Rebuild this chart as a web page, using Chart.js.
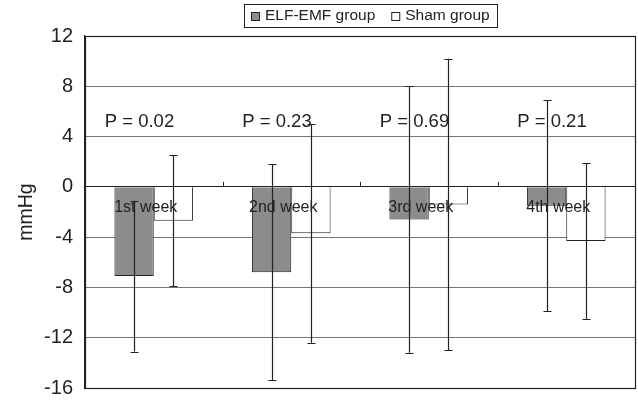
<!DOCTYPE html>
<html>
<head>
<meta charset="utf-8">
<style>
  html, body { margin: 0; padding: 0; background: #fff; }
  canvas { display: block; }
</style>
<script src="https://cdn.jsdelivr.net/npm/chart.js@4/dist/chart.umd.min.js"></script>
</head>
<body>
<canvas id="chart" width="638" height="400"></canvas>
<script>
(function () {
  'use strict';

  var weeks = ['1st week', '2nd week', '3rd week', '4th week'];
  var elfMean = [-7.1, -6.8, -2.6, -1.5];
  var elfSd = [6.0, 8.6, 10.6, 8.4];
  var shamMean = [-2.7, -3.7, -1.4, -4.3];
  var shamSd = [5.2, 8.7, 11.6, 6.2];
  var pLabels = ['P = 0.02', 'P = 0.23', 'P = 0.69', 'P = 0.21'];
  var pLabelY = 5.2;
  var yMin = -16, yMax = 12, yStep = 4;

  var FONT = '"Liberation Sans", Arial, sans-serif';
  var INK = '#222';
  var sdByDataset = [elfSd, shamSd];

  // --- Overlay: labels, error bars, axis ticks, frame, legend ---
  var overlay = {
    id: 'overlay',
    afterDatasetsDraw: function (chart) {
      var c = chart.ctx;
      var x = chart.scales.x;
      var y = chart.scales.y;
      var y0 = y.getPixelForValue(0);

      c.save();
      c.fillStyle = INK;

      // category labels sit under the zero line
      c.font = '16px ' + FONT;
      c.textAlign = 'center';
      c.textBaseline = 'middle';
      for (var i = 0; i < weeks.length; i++) {
        c.fillText(weeks[i], x.getPixelForValue(i) - 8, y0 + 21);
      }

      // P values
      c.font = '18.5px ' + FONT;
      c.textAlign = 'left';
      for (var k = 0; k < pLabels.length; k++) {
        c.fillText(pLabels[k], x.getPixelForValue(k) - 49, y.getPixelForValue(pLabelY));
      }

      // error bars (mean +/- sd)
      c.strokeStyle = INK;
      c.lineWidth = 1.2;
      for (var d = 0; d < chart.data.datasets.length; d++) {
        var meta = chart.getDatasetMeta(d);
        var means = chart.data.datasets[d].data;
        var sd = sdByDataset[d];
        meta.data.forEach(function (bar, j) {
          var hi = y.getPixelForValue(means[j] + sd[j]);
          var lo = y.getPixelForValue(means[j] - sd[j]);
          var bx = Math.round(bar.x) + 0.5;
          c.beginPath();
          c.moveTo(bx, hi); c.lineTo(bx, lo);
          c.moveTo(bx - 4, Math.round(hi) + 0.5); c.lineTo(bx + 4, Math.round(hi) + 0.5);
          c.moveTo(bx - 4, Math.round(lo) + 0.5); c.lineTo(bx + 4, Math.round(lo) + 0.5);
          c.stroke();
        });
      }

      // small tick marks between categories on the zero line
      c.lineWidth = 1;
      c.beginPath();
      for (var t = 0; t < weeks.length - 1; t++) {
        var tx = Math.round((x.getPixelForValue(t) + x.getPixelForValue(t + 1)) / 2) + 0.5;
        c.moveTo(tx, y0 - 5); c.lineTo(tx, y0);
      }
      c.stroke();
      c.restore();
    },
    afterDraw: function (chart) {
      var c = chart.ctx;
      var a = chart.chartArea;
      c.save();
      c.strokeStyle = INK;
      c.lineWidth = 1.2;
      c.strokeRect(Math.round(a.left) + 0.5, Math.round(a.top) + 0.5,
        Math.round(a.right - a.left), Math.round(a.bottom - a.top));

      // legend
      c.font = '15.5px ' + FONT;
      c.textBaseline = 'middle';
      c.textAlign = 'left';
      var sets = chart.data.datasets;
      var sq = 9, gapIn = 5, gapOut = 16, pad = 7;
      var w = pad * 2;
      sets.forEach(function (s, i) {
        w += sq + gapIn + c.measureText(s.label).width;
        if (i < sets.length - 1) w += gapOut;
      });
      var left = Math.round((a.left + a.right) / 2 + 10 - w / 2);
      var top = 4, h = 23, midY = top + h / 2 + 0.5;
      c.lineWidth = 1;
      c.strokeRect(left + 0.5, top + 0.5, Math.round(w), h);
      var cx = left + pad;
      sets.forEach(function (s) {
        c.fillStyle = s.backgroundColor;
        c.fillRect(cx, Math.round(midY - sq / 2), sq, sq);
        c.strokeStyle = INK;
        c.strokeRect(cx + 0.5, Math.round(midY - sq / 2) + 0.5, sq - 1, sq - 1);
        cx += sq + gapIn;
        c.fillStyle = INK;
        c.fillText(s.label, cx, midY);
        cx += c.measureText(s.label).width + gapOut;
      });
      c.restore();
    }
  };

  new Chart(document.getElementById('chart'), {
    type: 'bar',
    data: {
      labels: weeks,
      datasets: [{
        label: 'ELF-EMF group',
        data: elfMean,
        backgroundColor: '#8c8c8c',
        borderColor: INK,
        borderWidth: 1,
        barPercentage: 1,
        categoryPercentage: 0.572
      }, {
        label: 'Sham group',
        data: shamMean,
        backgroundColor: '#ffffff',
        borderColor: INK,
        borderWidth: 1,
        barPercentage: 1,
        categoryPercentage: 0.572
      }]
    },
    options: {
      responsive: false,
      animation: false,
      layout: { padding: { left: 0, top: 36, right: 3, bottom: 12 } },
      plugins: {
        legend: { display: false },
        tooltip: { enabled: false }
      },
      scales: {
        x: { display: false, offset: true },
        y: {
          min: yMin,
          max: yMax,
          afterFit: function (s) {
            s.width = 85;
            s.paddingTop = 0;
            s.paddingBottom = 0;
          },
          ticks: {
            stepSize: yStep,
            color: INK,
            padding: 12,
            font: { family: FONT, size: 20 }
          },
          grid: {
            drawTicks: false,
            lineWidth: 1,
            color: function (ctx) { return ctx.tick && ctx.tick.value === 0 ? INK : '#777'; }
          },
          border: { display: true, color: INK, width: 1.2 },
          title: {
            display: true,
            text: 'mmHg',
            color: INK,
            font: { family: FONT, size: 19.5 },
            padding: { top: 15, bottom: 0 }
          }
        }
      }
    },
    plugins: [overlay]
  });
})();
</script>
</body>
</html>
